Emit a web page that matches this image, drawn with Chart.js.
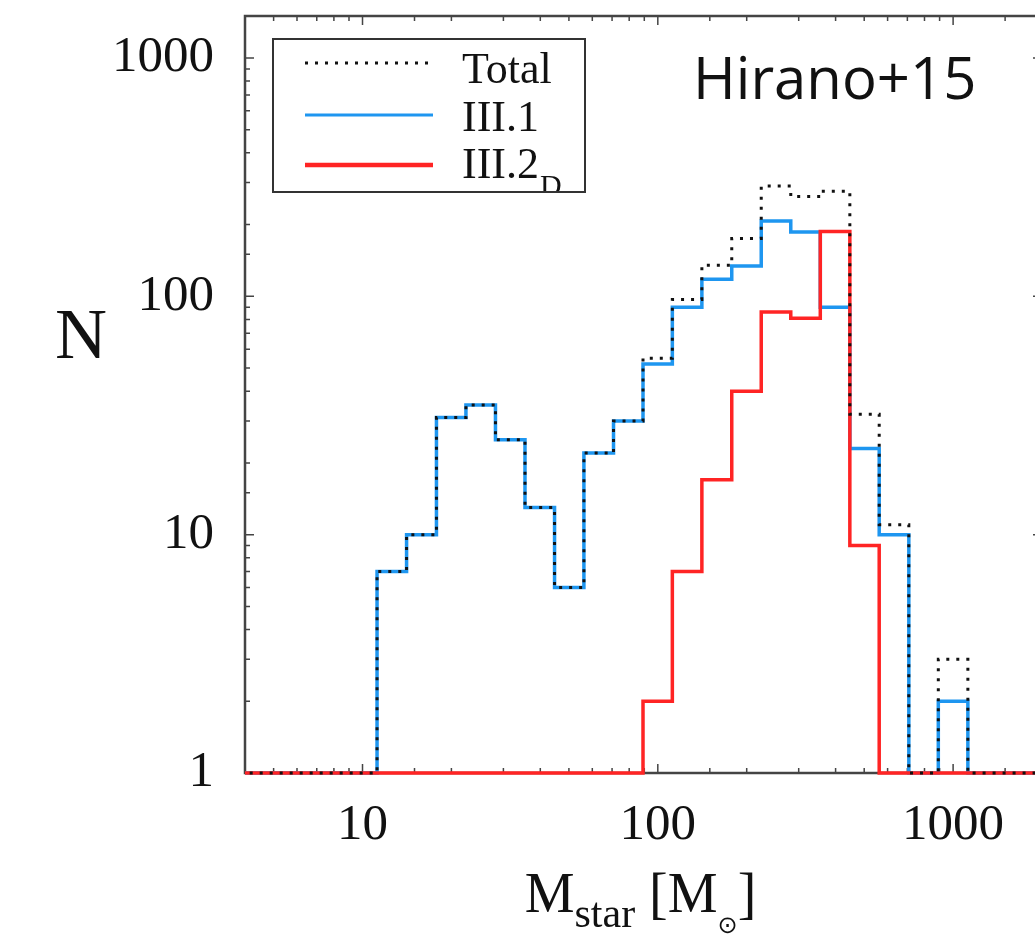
<!DOCTYPE html>
<html>
<head>
<meta charset="utf-8">
<script src="https://cdn.jsdelivr.net/npm/chart.js@4.4.1/dist/chart.umd.min.js"></script>
<style>
  html, body { margin: 0; padding: 0; background: #fff; overflow: hidden; }
  canvas { display: block; }
</style>
</head>
<body>
<canvas id="hist" width="1050" height="935"></canvas>
<script>
// bin edges in M_sun (0.1 dex bins), one more edge than counts
const binEdges = [3.55, 4.47, 5.62, 7.08, 8.91, 11.2, 14.1, 17.8, 22.4, 28.2, 35.5, 44.7, 56.2, 70.8,
                  89.1, 112, 141, 178, 224, 282, 355, 447, 562, 708, 891, 1122, 1413, 1778, 2239];
const countTotal  = [0, 0, 0, 0, 0, 7, 10, 31, 35, 25, 13, 6, 22, 30, 55, 97, 135, 175, 290, 262, 276, 32, 11, 0, 3, 0, 0, 0];
const countIII1   = [0, 0, 0, 0, 0, 7, 10, 31, 35, 25, 13, 6, 22, 30, 52, 90, 118, 134, 207, 186, 90, 23, 10, 0, 2, 0, 0, 0];
const countIII2D  = [0, 0, 0, 0, 0, 0, 0, 0, 0, 0, 0, 0, 0, 0, 2, 7, 17, 40, 86, 81, 187, 9, 0, 0, 0, 0, 0, 0];
const xTickLabels = [10, 100, 1000];
const yTickLabels = [1, 10, 100, 1000];
const xRange = [4, 2000];
const yRange = [1, 1500];

const BLUE = '#1e96f0';
const RED = '#ff2424';
const SERIF = '"Liberation Serif", "Times New Roman", serif';

// empty bins sit on the bottom of the log axis
function steps(counts) {
    return binEdges.map((e, i) => ({
        x: e,
        y: Math.max(counts[Math.min(i, counts.length - 1)], yRange[0])
    }));
}

const isDecade = v => Math.abs(Math.log10(v) - Math.round(Math.log10(v))) < 1e-9;
const pickLabel = list => v => list.some(t => Math.abs(t - v) < 1e-6) ? String(Math.round(v)) : '';

// fixed axis sizes, no extra label padding
function fixSize(s, w, h) {
    if (w !== null) s.width = w;
    if (h !== null) s.height = h;
    s.paddingTop = 0; s.paddingBottom = 0; s.paddingLeft = 0; s.paddingRight = 0;
}

// frame + inward ticks on all four sides
const framePlugin = {
    id: 'frame',
    beforeDatasetsDraw(chart) {
        const { ctx, chartArea: a, scales } = chart;
        ctx.save();
        ctx.strokeStyle = '#444';
        ctx.lineWidth = 1.5;
        ctx.beginPath();
        scales.x.ticks.forEach(t => {
            const px = scales.x.getPixelForValue(t.value);
            const len = isDecade(t.value) ? 9 : 5;
            ctx.moveTo(px, a.bottom); ctx.lineTo(px, a.bottom - len);
            ctx.moveTo(px, a.top); ctx.lineTo(px, a.top + len);
        });
        scales.y.ticks.forEach(t => {
            const py = scales.y.getPixelForValue(t.value);
            const len = isDecade(t.value) ? 9 : 5;
            ctx.moveTo(a.left, py); ctx.lineTo(a.left + len, py);
            ctx.moveTo(a.right, py); ctx.lineTo(a.right - len, py);
        });
        ctx.stroke();
        ctx.lineWidth = 2.5;
        ctx.strokeRect(a.left, a.top, a.right - a.left, a.bottom - a.top);
        ctx.restore();
    }
};

// axis titles, annotation and legend (need sub-scripts, so drawn by hand)
const textPlugin = {
    id: 'texts',
    afterDraw(chart) {
        const { ctx, chartArea: a } = chart;
        ctx.save();
        ctx.fillStyle = '#111';
        ctx.textBaseline = 'alphabetic';

        // y title
        ctx.font = '72px ' + SERIF;
        ctx.textAlign = 'center';
        ctx.fillText('N', a.left - 164, a.top + 342);

        // x title: M_star [M_sun]
        ctx.textAlign = 'left';
        const big = '56px ' + SERIF, sub = '42px ' + SERIF, sun = '24px "DejaVu Sans"';
        const parts = [
            [big, 'M', 0], [sub, 'star', 15], [big, ' [M', 0], [sun, '\u2299', 21], [big, ']', 0]
        ];
        let w = 0;
        parts.forEach(p => { ctx.font = p[0]; w += ctx.measureText(p[1]).width; });
        let x = (a.left + a.right) / 2 - w / 2 - 3;
        const base = a.bottom + 139;
        parts.forEach(p => {
            ctx.font = p[0];
            ctx.fillText(p[1], x, base + p[2]);
            x += ctx.measureText(p[1]).width;
        });

        // label in the corner
        ctx.font = '58px "Open Sans", sans-serif';
        ctx.fillText('Hirano+15', a.left + 448, a.top + 83);

        // legend
        const bx = a.left + 28, by = a.top + 23, bw = 312, bh = 153;
        ctx.save();
        ctx.beginPath();
        ctx.rect(bx, by, bw, bh);
        ctx.clip();
        const rows = [
            { y: 47, base: 67, color: '#111', width: 3, dash: [3, 7], label: 'Total' },
            { y: 99, base: 115, color: BLUE, width: 3, dash: [], label: 'III.1' },
            { y: 149, base: 162, color: RED, width: 4.5, dash: [], label: 'III.2', sub: 'D' }
        ];
        rows.forEach(r => {
            ctx.strokeStyle = r.color;
            ctx.lineWidth = r.width;
            ctx.setLineDash(r.dash);
            ctx.beginPath();
            ctx.moveTo(a.left + 60, a.top + r.y);
            ctx.lineTo(a.left + 188, a.top + r.y);
            ctx.stroke();
            ctx.font = '44px ' + SERIF;
            ctx.fillStyle = '#111';
            ctx.fillText(r.label, a.left + 217, a.top + r.base);
            if (r.sub) {
                const lw = ctx.measureText(r.label).width;
                ctx.font = '30px ' + SERIF;
                ctx.fillText(r.sub, a.left + 217 + lw + 1, a.top + r.base + 17);
            }
        });
        ctx.restore();
        ctx.setLineDash([]);
        ctx.strokeStyle = '#333';
        ctx.lineWidth = 2;
        ctx.strokeRect(bx, by, bw, bh);
        ctx.restore();
    }
};

const tickFont = { family: SERIF, size: 51 };

new Chart(document.getElementById('hist'), {
    type: 'line',
    data: {
        datasets: [
            {
                label: 'Total',
                data: steps(countTotal),
                borderColor: '#111',
                borderWidth: 3,
                borderDash: [3, 7],
                stepped: true,
                clip: { left: 0, top: 0, right: 0, bottom: 4 }
            },
            {
                label: 'III.2D',
                data: steps(countIII2D),
                borderColor: RED,
                borderWidth: 3.5,
                stepped: true,
                clip: { left: 0, top: 0, right: 0, bottom: 4 }
            },
            {
                label: 'III.1',
                data: steps(countIII1),
                borderColor: BLUE,
                borderWidth: 3.5,
                stepped: true,
                clip: { left: 0, top: 0, right: 0, bottom: 4 }
            }
        ]
    },
    options: {
        responsive: false,
        animation: false,
        layout: { padding: { top: 16, right: 8, left: 0, bottom: 0 } },
        elements: { point: { radius: 0 }, line: { tension: 0, fill: false } },
        plugins: { legend: { display: false }, tooltip: { enabled: false } },
        scales: {
            x: {
                type: 'logarithmic',
                min: xRange[0],
                max: xRange[1],
                grid: { display: false, drawTicks: false },
                border: { display: false },
                ticks: {
                    autoSkip: false, maxRotation: 0, padding: 22,
                    font: tickFont, color: '#111',
                    callback: pickLabel(xTickLabels)
                },
                afterFit: s => fixSize(s, null, 162)
            },
            y: {
                type: 'logarithmic',
                min: yRange[0],
                max: yRange[1],
                grid: { display: false, drawTicks: false },
                border: { display: false },
                ticks: {
                    autoSkip: false, padding: 31,
                    font: tickFont, color: '#111',
                    callback: pickLabel(yTickLabels)
                },
                afterFit: s => fixSize(s, 245, null)
            }
        }
    },
    plugins: [framePlugin, textPlugin]
});
</script>
</body>
</html>
